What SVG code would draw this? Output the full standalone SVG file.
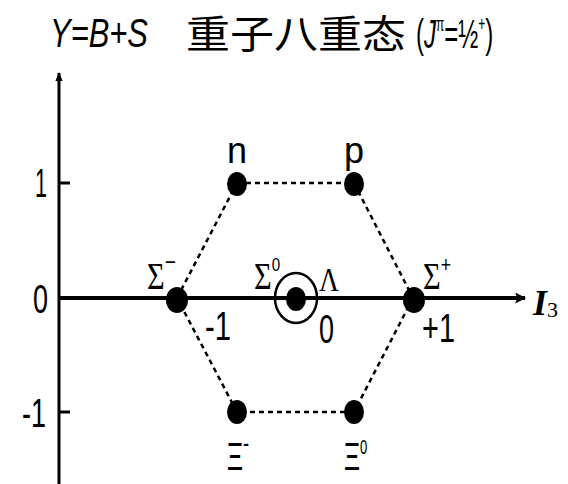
<svg xmlns="http://www.w3.org/2000/svg" width="568" height="484" viewBox="0 0 568 484">
<style>
.t{font-family:"Liberation Sans","Noto Sans CJK SC",sans-serif;fill:#000}
.s{font-family:"Liberation Serif",serif;fill:#000}
.dot{fill:#000}
.edge{stroke:#000;stroke-width:2.5;stroke-dasharray:5 4;fill:none}
.axis{stroke:#000;fill:none}
.num{font-family:"Liberation Sans",sans-serif;font-size:40px;fill:#000}
</style>
<defs>
<marker id="ahx" viewBox="0 0 10 10" refX="9" refY="5" markerWidth="16" markerHeight="11" orient="auto" markerUnits="userSpaceOnUse">
<path d="M0,0 L10,5 L0,10 L2,5 Z" fill="#000"/>
</marker>
<marker id="ahy" viewBox="0 0 10 10" refX="9" refY="5" markerWidth="26" markerHeight="9" orient="auto" markerUnits="userSpaceOnUse">
<path d="M0,1 L10,5 L0,9 Z" fill="#000"/>
</marker>
</defs>
<g id="title">
<text class="t" x="50" y="47" font-size="41" font-style="italic" textLength="98" lengthAdjust="spacingAndGlyphs">Y=B+S</text>
<text class="t" x="186" y="48" font-size="39" textLength="220" lengthAdjust="spacingAndGlyphs">重子八重态</text>
<text class="t" font-size="40" transform="translate(416,48) scale(0.6,1)">(<tspan font-style="italic">J</tspan><tspan font-size="20" dy="-17">π</tspan><tspan dy="17">=½</tspan><tspan font-size="20" dy="-17">+</tspan><tspan dy="17">)</tspan></text>
</g>
<g id="axes">
<line class="axis" x1="59" y1="484" x2="59" y2="73" stroke-width="3" marker-end="url(#ahy)"/>
<line class="axis" x1="59" y1="298" x2="525" y2="298" stroke-width="4" marker-end="url(#ahx)"/>
<line class="axis" x1="59" y1="183" x2="70" y2="183" stroke-width="3"/>
<line class="axis" x1="59" y1="412" x2="70" y2="412" stroke-width="3"/>
<text class="num" x="35" y="197" textLength="12" lengthAdjust="spacingAndGlyphs">1</text>
<text class="num" x="33" y="313" textLength="15" lengthAdjust="spacingAndGlyphs">0</text>
<text class="num" x="22" y="427" textLength="24" lengthAdjust="spacingAndGlyphs">-1</text>
<text class="num" x="205" y="340" textLength="26" lengthAdjust="spacingAndGlyphs">-1</text>
<text class="num" x="319" y="343" textLength="15" lengthAdjust="spacingAndGlyphs">0</text>
<text class="num" x="422" y="342" textLength="33" lengthAdjust="spacingAndGlyphs">+1</text>
<text class="s" x="533" y="315" font-size="36" font-style="italic" font-weight="bold">I<tspan font-size="22" font-style="normal" font-weight="normal" dy="2">3</tspan></text>
</g>
<g id="connectors">
<line class="edge" x1="237" y1="183" x2="354" y2="183"/>
<line class="edge" x1="354" y1="183" x2="413" y2="298"/>
<line class="edge" x1="413" y1="298" x2="354" y2="412"/>
<line class="edge" x1="354" y1="412" x2="237" y2="412"/>
<line class="edge" x1="237" y1="412" x2="177" y2="298"/>
<line class="edge" x1="177" y1="298" x2="237" y2="183"/>
</g>
<g id="n"><ellipse class="dot" cx="237" cy="184" rx="10" ry="12"/><text class="t" x="237" y="163" font-size="36" text-anchor="middle">n</text></g>
<g id="p"><ellipse class="dot" cx="354" cy="184" rx="10" ry="12"/><text class="t" x="354" y="163" font-size="36" text-anchor="middle">p</text></g>
<g id="sigma-minus"><ellipse class="dot" cx="177" cy="300" rx="11" ry="13"/><text class="s" font-size="38" transform="translate(147,289) scale(0.8,1)">Σ<tspan class="t" font-size="24" dy="-19">−</tspan></text></g>
<g id="sigma0-lambda"><ellipse cx="296" cy="298" rx="21" ry="25" fill="none" stroke="#000" stroke-width="2.5"/><ellipse class="dot" cx="296" cy="299" rx="10" ry="12"/><text class="s" font-size="38" transform="translate(254,289) scale(0.8,1)">Σ<tspan class="t" font-size="19" dy="-18">0</tspan></text><text class="s" x="319" y="291" font-size="34" textLength="20" lengthAdjust="spacingAndGlyphs">Λ</text></g>
<g id="sigma-plus"><ellipse class="dot" cx="414" cy="300" rx="11" ry="13"/><text class="s" font-size="38" transform="translate(423,289) scale(0.8,1)">Σ<tspan class="t" font-size="22" dy="-17">+</tspan></text></g>
<g id="xi-minus"><ellipse class="dot" cx="237" cy="412" rx="10" ry="12"/><text class="t" font-size="38" transform="translate(227,470) scale(0.65,1)">Ξ<tspan font-size="28" dy="-18">-</tspan></text></g>
<g id="xi0"><ellipse class="dot" cx="354" cy="412" rx="10" ry="12"/><text class="t" font-size="38" transform="translate(344,470) scale(0.65,1)">Ξ<tspan font-size="20" dy="-16">0</tspan></text></g>
</svg>
